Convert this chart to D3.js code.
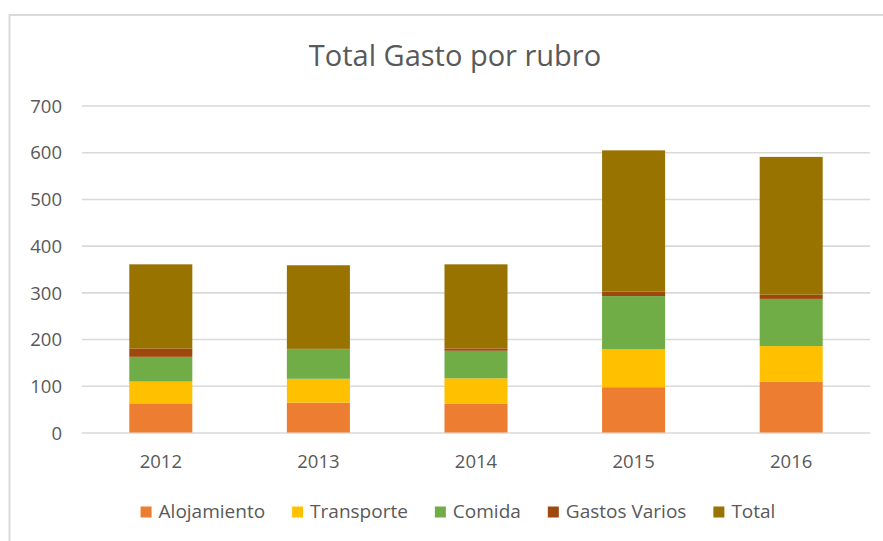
<!DOCTYPE html>
<html>
<head>
<meta charset="utf-8">
<script src="https://cdn.jsdelivr.net/npm/d3@7/dist/d3.min.js"></script>
<style>
  html, body { margin: 0; padding: 0; background: #fff; }
  svg { display: block; }
</style>
</head>
<body>
<script>
const years = ["2012", "2013", "2014", "2015", "2016"];
const alojamiento = [61, 64, 62, 97, 109];
const transporte = [48, 51, 54, 81, 76];
const comida = [53, 63, 59, 114, 101];
const gastosVarios = [18, 1, 5, 10, 9];
const total = [180, 179, 180, 302, 295];
const seriesNames = ["Alojamiento", "Transporte", "Comida", "Gastos Varios", "Total"];
const seriesColors = ["#ED7D31", "#FFC000", "#70AD47", "#9E480E", "#997300"];
const yTicks = [0, 100, 200, 300, 400, 500, 600, 700];
const title = "Total Gasto por rubro";

const W = 883, H = 541;
const font = "'Open Sans', sans-serif";
const textColor = "#595959";

const svg = d3.select("body").append("svg").attr("width", W).attr("height", H);

// chart area border
svg.append("rect")
  .attr("x", 9.5).attr("y", 15).attr("width", 890).attr("height", 560)
  .attr("fill", "#fff").attr("stroke", "#d9d9d9").attr("stroke-width", 2);

const x = d3.scaleBand().domain(years).range([82, 870]).paddingInner(0.6).paddingOuter(0.3);
const y = d3.scaleLinear().domain([0, 700]).range([432.5, 105.5]);

// title
svg.append("text")
  .attr("x", 455).attr("y", 66)
  .attr("text-anchor", "middle")
  .attr("font-family", font).attr("font-size", 29)
  .attr("fill", textColor)
  .text(title);

// gridlines
const yAxis = d3.axisLeft(y).tickValues(yTicks).tickSize(-(870 - 82)).tickPadding(20);
const gy = svg.append("g").attr("transform", "translate(82,0)").call(yAxis);
gy.select(".domain").remove();
gy.selectAll(".tick line").attr("stroke", "#d9d9d9").attr("stroke-width", 1.6);
gy.selectAll(".tick text")
  .attr("font-family", font).attr("font-size", 18.5).attr("fill", textColor)
  .attr("x", -20).attr("dy", "0.36em");

// stacked data
const table = years.map((yr, i) => ({
  year: yr,
  "Alojamiento": alojamiento[i],
  "Transporte": transporte[i],
  "Comida": comida[i],
  "Gastos Varios": gastosVarios[i],
  "Total": total[i]
}));
const stack = d3.stack().keys(seriesNames)(table);
const color = d3.scaleOrdinal().domain(seriesNames).range(seriesColors);

svg.append("g").selectAll("g")
  .data(stack).join("g")
  .attr("fill", d => color(d.key))
  .selectAll("rect")
  .data(d => d).join("rect")
  .attr("x", d => x(d.data.year))
  .attr("width", x.bandwidth())
  .attr("y", d => y(d[1]))
  .attr("height", d => y(d[0]) - y(d[1]));

// x axis labels
const xAxis = d3.axisBottom(x).tickSize(0).tickPadding(0);
const gx = svg.append("g").attr("transform", "translate(0,432.5)").call(xAxis);
gx.select(".domain").remove();
gx.selectAll(".tick text")
  .attr("font-family", font).attr("font-size", 18.5).attr("fill", textColor)
  .attr("y", 35.5).attr("dy", 0);

// legend
const legend = svg.append("g");
const items = legend.selectAll("g").data(seriesNames).join("g");
items.append("rect").attr("width", 11).attr("height", 11).attr("y", -11)
  .attr("fill", d => color(d));
items.append("text").attr("x", 18).attr("y", 0)
  .attr("font-family", font).attr("font-size", 19).attr("fill", textColor)
  .text(d => d);
let cx = 0;
const positions = [];
items.each(function () {
  const tw = d3.select(this).select("text").node().getComputedTextLength();
  positions.push(cx);
  cx += 18 + tw + 27;
});
const legendWidth = cx - 27;
const startX = 458 - legendWidth / 2;
items.attr("transform", (d, i) => `translate(${startX + positions[i]},517.5)`);
</script>
</body>
</html>
